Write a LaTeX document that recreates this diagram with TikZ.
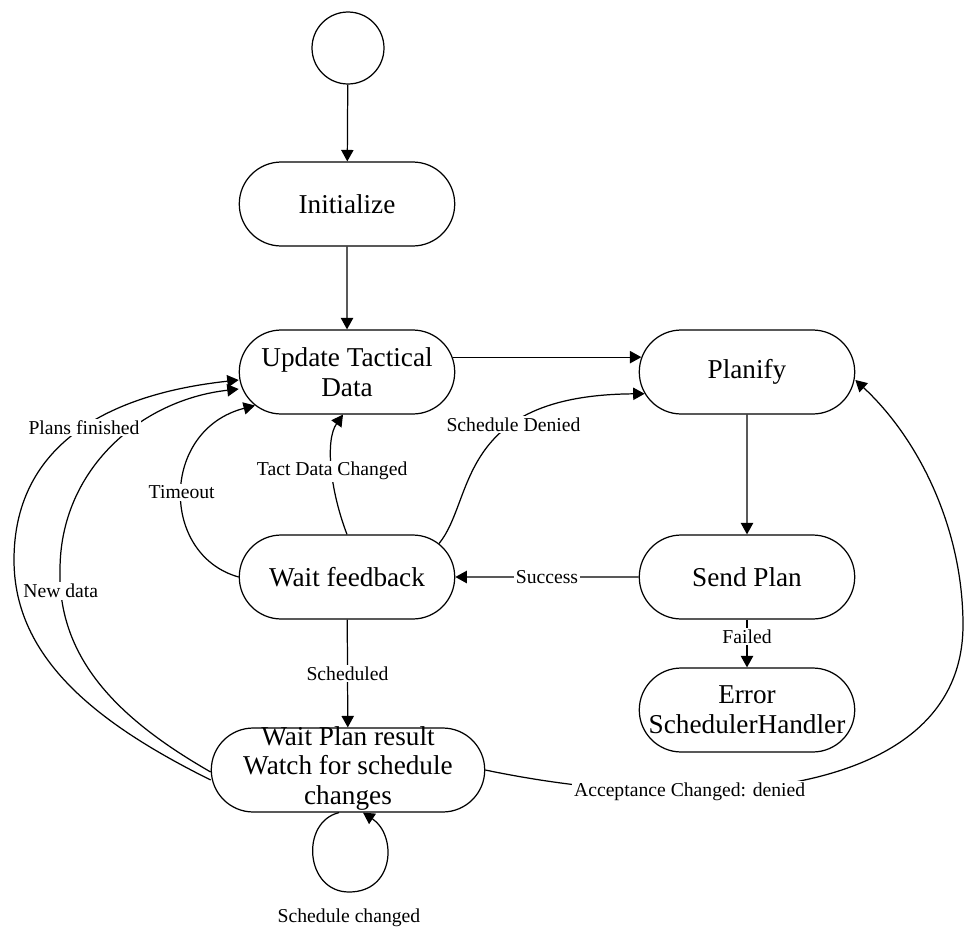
\documentclass[tikz,border=0pt]{standalone}
\usepackage{fontspec}
\setmainfont{Liberation Serif}
\usetikzlibrary{arrows.meta,shapes.misc}

% three-line text that may overflow its box, centred on the node
\newcommand\flattext[1]{\smash{\raisebox{-3pt}{\begin{tabular}{@{}c@{}}#1\end{tabular}}}}

\begin{document}
\begin{tikzpicture}[x=0.02cm,y=-0.02cm,line width=0.7pt,
  state/.style={draw,rounded rectangle,minimum width=4.38cm,minimum height=1.68cm,
    inner sep=1pt,align=center,font=\fontsize{15.5}{17}\selectfont},
  widestate/.style={state,minimum width=5.54cm},
  initial/.style={draw,circle,minimum size=1.44cm,inner sep=0pt},
  arr/.style={-{Triangle[length=6.5pt,width=7pt]}},
  lbl/.style={fill=white,inner sep=1pt,font=\fontsize{11.2}{13}\selectfont}]
\useasboundingbox (0,0) rectangle (965,927);

% states
\node[initial] (start) at (348,48) {};
\node[state] (init) at (347,204) {Initialize};
\node[state] (upd) at (347,372) {Update Tactical\\Data};
\node[state] (plan) at (747,372) {Planify};
\node[state] (wf) at (347,577) {Wait feedback};
\node[state] (send) at (747,577) {Send Plan};
\node[state] (err) at (747,710) {Error\\SchedulerHandler};
\node[widestate] (wpr) at (348,770) {\flattext{Wait Plan result\\Watch for schedule\\changes}};

% straight transitions
\draw[arr] (start) -- (init);
\draw[arr] (init) -- (upd);
\draw[arr] (upd.8) -- (plan.172);
\draw[arr] (plan) -- (send);
\draw[arr] (send) -- node[lbl,pos=0.5] {Success} (wf);
\draw[arr] (send) -- node[lbl,pos=0.35] {Failed} (err);
\draw[arr] (wf) -- node[lbl,pos=0.5] {Scheduled} (wpr);

% curved transitions from Wait feedback
\draw[arr] (wf.west) .. controls (160,555) and (160,430) .. node[lbl,pos=0.5] {Timeout} (upd.200);
\draw[arr] (wf.north) .. controls (330,490) and (325,440) .. node[lbl,pos=0.47] {Tact Data Changed} ([xshift=-0.08cm]upd.south);
\draw[arr] (wf.20) .. controls (475,500) and (455,395) .. node[lbl,pos=0.66] {Schedule Denied} (plan.192);

% long transitions from Wait Plan result back to Update Tactical Data
\draw[arr] ([yshift=-0.04cm]wpr.west) .. controls (120,720) and (58,660) .. (60,570)
  node[lbl,pos=0.92] {New data}
  .. controls (60,470) and (140,400) .. ([yshift=-0.34cm]upd.west);
\draw[arr] ([yshift=-0.2cm]wpr.west) .. controls (100,725) and (14,660) .. (14,560)
  .. controls (14,450) and (100,395) .. node[lbl,pos=0.54] {Plans finished} ([yshift=-0.16cm]upd.west);

% back to Planify
\draw[arr] (wpr.east) .. controls (700,815) and (963,800) .. (963,625)
  node[lbl,pos=0.31] {Acceptance Changed: denied}
  .. controls (963,530) and (920,440) .. ([yshift=-0.16cm]plan.east);

% self loop below Wait Plan result
\draw[arr] ([xshift=-0.18cm]wpr.south) .. controls (300,822) and (305,892) .. (349,892)
  node[pos=1,below=0.2cm,font=\fontsize{11.2}{13}\selectfont] {Schedule changed}
  .. controls (395,892) and (397,835) .. ([xshift=0.3cm]wpr.south);
\end{tikzpicture}
\end{document}
